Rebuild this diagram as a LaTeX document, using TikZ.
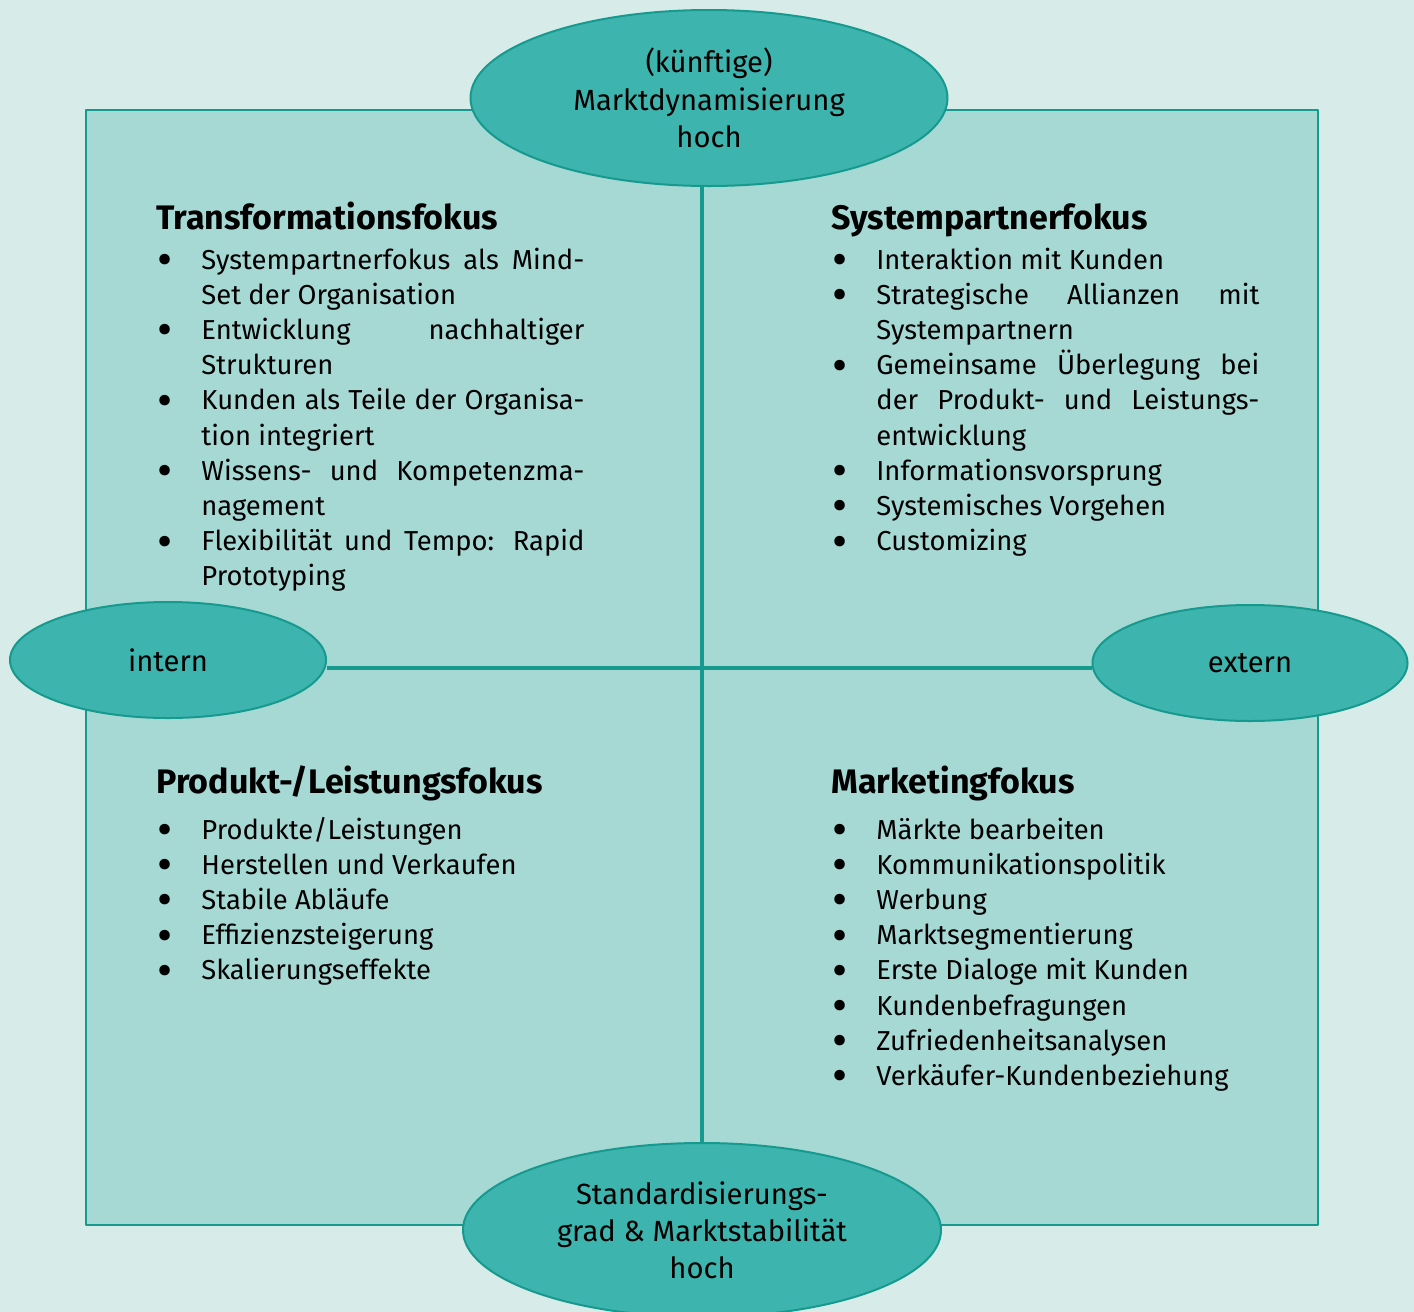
\documentclass[tikz,border=0pt]{standalone}
\usepackage{fontspec}
\setmainfont{Fira Sans}
\usetikzlibrary{shapes.geometric}
\definecolor{bgteal}{HTML}{D7ECE8}
\definecolor{panel}{HTML}{A6D8D4}
\definecolor{rim}{HTML}{16998E}
\definecolor{oval}{HTML}{3DB5AE}
\hyphenpenalty=10000
% first item: no \par, next items: \nitm
\newcommand{\itm}{\hangindent=22.5pt\hangafter=1\noindent\makebox[22.5pt][l]{\hspace{0.3pt}\raisebox{-3.2pt}{\scalebox{1.7}{\textbullet}}}}
\newcommand{\nitm}{\par\itm}
\begin{document}
\begin{tikzpicture}[x=0.5pt, y=-0.5pt, line join=round,
	axis/.style={draw=rim, line width=1.6pt},
	oval/.style={ellipse, draw=rim, line width=1pt, fill=oval, inner sep=0pt, align=center,
		font=\fontsize{14.6}{18.6}\selectfont},
	head/.style={anchor=base west, inner sep=0pt, font=\fontsize{17}{20}\selectfont\bfseries},
	lst/.style={anchor=base west, inner sep=0pt, text width=214pt, align=justify,
		font=\fontsize{13.7}{17.6}\selectfont}]
	\fill[bgteal] (0,0) rectangle (1414,1312);
	\useasboundingbox (0,0) rectangle (1414,1312);
	\clip (0,0) rectangle (1414,1312);
	\draw[rim, fill=panel, line width=1pt] (86,110) rectangle (1318,1225);
	\coordinate (c) at (702,668);
	% axes ends
	\node[oval, minimum width=238.5pt, minimum height=88pt] (top) at (709,98)
		{(künftige)\\Marktdynamisierung\\hoch};
	\node[oval, minimum width=239pt, minimum height=87pt] (bot) at (702,1230)
		{Standardisierungs-\\grad \& Marktstabilität\\hoch};
	\node[oval, minimum width=158pt, minimum height=58pt] (int) at (168,660) {intern};
	\node[oval, minimum width=157.5pt, minimum height=58pt] (ext) at (1250,663) {extern};
	\draw[axis] (c |- top.south) -- (c |- bot.north);
	\draw[axis] (int.east |- c) -- (ext.west |- c);
	% quadrants
	\node[head] (hTL) at (156,229) {Transformationsfokus};
	\node[lst] (lTL) at (156,269) {%
		\itm Systempartnerfokus als Mind-\linebreak Set der Organisation
		\nitm Entwicklung nachhaltiger\linebreak Strukturen
		\nitm Kunden als Teile der Organisa-\linebreak tion integriert
		\nitm Wissens- und Kompetenzma-\linebreak nagement
		\nitm Flexibilität und Tempo: Rapid\linebreak Prototyping\par};
	\node[head] (hTR) at (831,229) {Systempartnerfokus};
	\node[lst] (lTR) at (831,269) {%
		\itm Interaktion mit Kunden
		\nitm Strategische Allianzen mit\linebreak Systempartnern
		\nitm Gemeinsame Überlegung bei\linebreak der Produkt- und Leistungs-\linebreak entwicklung
		\nitm Informationsvorsprung
		\nitm Systemisches Vorgehen
		\nitm Customizing\par};
	\node[head] (hBL) at (156,793) {Produkt-/Leistungsfokus};
	\node[lst] (lBL) at (156,839) {%
		\itm Produkte/Leistungen
		\nitm Herstellen und Verkaufen
		\nitm Stabile Abläufe
		\nitm Effizienzsteigerung
		\nitm Skalierungseffekte\par};
	\node[head] (hBR) at (831,793) {Marketingfokus};
	\node[lst] (lBR) at (831,839) {%
		\itm Märkte bearbeiten
		\nitm Kommunikationspolitik
		\nitm Werbung
		\nitm Marktsegmentierung
		\nitm Erste Dialoge mit Kunden
		\nitm Kundenbefragungen
		\nitm Zufriedenheitsanalysen
		\nitm Verkäufer-Kundenbeziehung\par};
\end{tikzpicture}
\end{document}
